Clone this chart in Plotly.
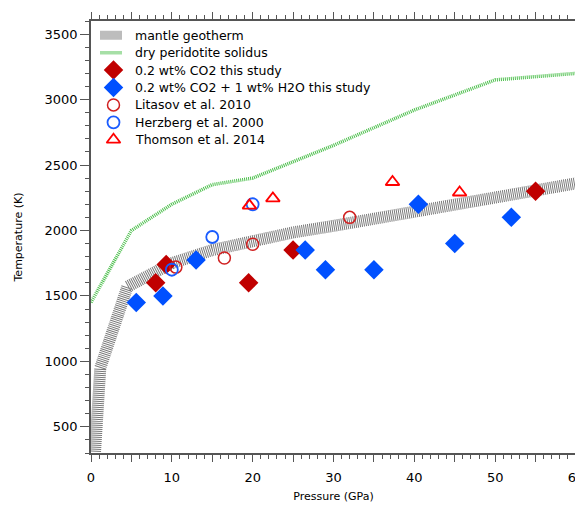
import plotly.graph_objects as go

# mantle geotherm and dry peridotite solidus (P in GPa, T in K)
geotherm_p = [0.5, 0.75, 1.15, 4.5, 7, 10, 15, 20, 25, 30, 35, 40, 45, 50, 55, 60]
geotherm_t = [310, 700, 950, 1570, 1650, 1750, 1850, 1925, 1985, 2035, 2090, 2140, 2195, 2250, 2305, 2360]

solidus_p = [0, 5, 10, 15, 20, 30, 40, 50, 60]
solidus_t = [1450, 2000, 2200, 2350, 2400, 2650, 2920, 3150, 3200]

# this study
co2_p = [8, 9.3, 19.5, 25, 55]
co2_t = [1600, 1740, 1600, 1850, 2300]

co2_h2o_p = [5.6, 8.9, 13, 26.5, 29, 35, 40.5, 45, 52]
co2_h2o_t = [1450, 1500, 1775, 1850, 1700, 1700, 2200, 1900, 2100]

# literature
litasov_p = [10.5, 16.5, 20, 32]
litasov_t = [1720, 1790, 1895, 2100]

herzberg_p = [10, 15, 20]
herzberg_t = [1700, 1950, 2200]

thomson_p = [19.6, 22.5, 37.3, 45.6]
thomson_t = [2190, 2245, 2370, 2290]

x_tickvals = [0, 5, 10, 15, 20, 25, 30, 35, 40, 45, 50, 55, 60]
x_ticktext = ['0', '', '10', '', '20', '', '30', '', '40', '', '50', '', '60']

legend_names = ['mantle geotherm', 'dry peridotite solidus', '0.2 wt% CO2 this study',
                '0.2 wt% CO2 + 1 wt% H2O this study', 'Litasov et al. 2010',
                'Herzberg et al. 2000', 'Thomson et al. 2014']

geo_line = dict(color='#7a7a7a', width=12, dash='1px,1px')
sol_line = dict(color='#4cbf4c', width=3.5, dash='1px,1px')
styles = [
    None, None,
    dict(symbol='diamond', size=15, color='#c00000'),
    dict(symbol='diamond', size=15, color='#0050ff'),
    dict(symbol='circle-open', size=12, color='#d02020', line=dict(width=1.5)),
    dict(symbol='circle-open', size=12, color='#1a5cff', line=dict(width=1.8)),
    dict(symbol='triangle-up-open', size=12, color='#ff0000', line=dict(width=1.8)),
]

fig = go.Figure()
fig.add_trace(go.Scatter(x=geotherm_p, y=geotherm_t, mode='lines', line=geo_line))
fig.add_trace(go.Scatter(x=solidus_p, y=solidus_t, mode='lines', line=sol_line))
fig.add_trace(go.Scatter(x=co2_p, y=co2_t, mode='markers', marker=styles[2]))
fig.add_trace(go.Scatter(x=co2_h2o_p, y=co2_h2o_t, mode='markers', marker=styles[3]))
fig.add_trace(go.Scatter(x=litasov_p, y=litasov_t, mode='markers', marker=styles[4]))
fig.add_trace(go.Scatter(x=herzberg_p, y=herzberg_t, mode='markers', marker=styles[5]))
fig.add_trace(go.Scatter(x=thomson_p, y=thomson_t, mode='markers', marker=styles[6]))

# hand-made legend, drawn on an overlay axis spanning the plot area (0..1)
plot_h = 432.0
plot_w = 485.0
row0 = 14.3      # px below top of plot area
row_gap = 17.4
sym_x = 22.5 / plot_w
line_x0 = 9.5 / plot_w
line_x1 = 30.5 / plot_w
text_x = 41.5 / plot_w
for i, name in enumerate(legend_names):
    ly = 1 - (row0 + i * row_gap) / plot_h
    if i == 0:
        fig.add_trace(go.Scatter(x=[line_x0, line_x1], y=[ly, ly], mode='lines',
                                 line=dict(color='#7a7a7a', width=9, dash='1px,1px'),
                                 xaxis='x2', yaxis='y2'))
    elif i == 1:
        fig.add_trace(go.Scatter(x=[line_x0, line_x1], y=[ly, ly], mode='lines',
                                 line=sol_line, xaxis='x2', yaxis='y2'))
    else:
        fig.add_trace(go.Scatter(x=[sym_x], y=[ly], mode='markers', marker=styles[i],
                                 xaxis='x2', yaxis='y2'))
    fig.add_annotation(x=text_x, y=ly, xref='paper', yref='paper', text=name,
                       showarrow=False, xanchor='left', yanchor='middle',
                       font=dict(size=12.5, color='black'))

axis_common = dict(showline=True, linecolor='#555', linewidth=1.5, mirror='ticks',
                   ticks='outside', tickcolor='#555', tickwidth=1.2, showgrid=False,
                   zeroline=False, automargin=False, tickfont=dict(size=13, color='black'))

# the page body adds an 8px offset, so the figure is a bit smaller than the window
fig.update_layout(
    width=575, height=501,
    margin=dict(l=83, r=7, t=13, b=56),
    paper_bgcolor='white', plot_bgcolor='white',
    font=dict(family='DejaVu Sans', color='black'),
    showlegend=False,
    xaxis=dict(range=[0, 60], tickmode='array', tickvals=x_tickvals, ticktext=x_ticktext,
               ticklen=7, ticklabelstandoff=5, ticklabeloverflow='allow',
               minor=dict(dtick=1, tick0=0, ticklen=4, ticks='outside', tickcolor='#555'),
               title=dict(text='Pressure (GPa)', font=dict(size=11, color='black'), standoff=8),
               **axis_common),
    yaxis=dict(range=[300, 3600], dtick=500, tick0=0, ticklen=9,
               minor=dict(dtick=100, ticklen=4, ticks='outside', tickcolor='#555'),
               title=dict(text='Temperature (K)', font=dict(size=11, color='black'), standoff=20),
               **axis_common),
    xaxis2=dict(overlaying='x', range=[0, 1], visible=False, anchor='y2'),
    yaxis2=dict(overlaying='y', range=[0, 1], visible=False, anchor='x2'),
)

fig.write_html("out.html")
